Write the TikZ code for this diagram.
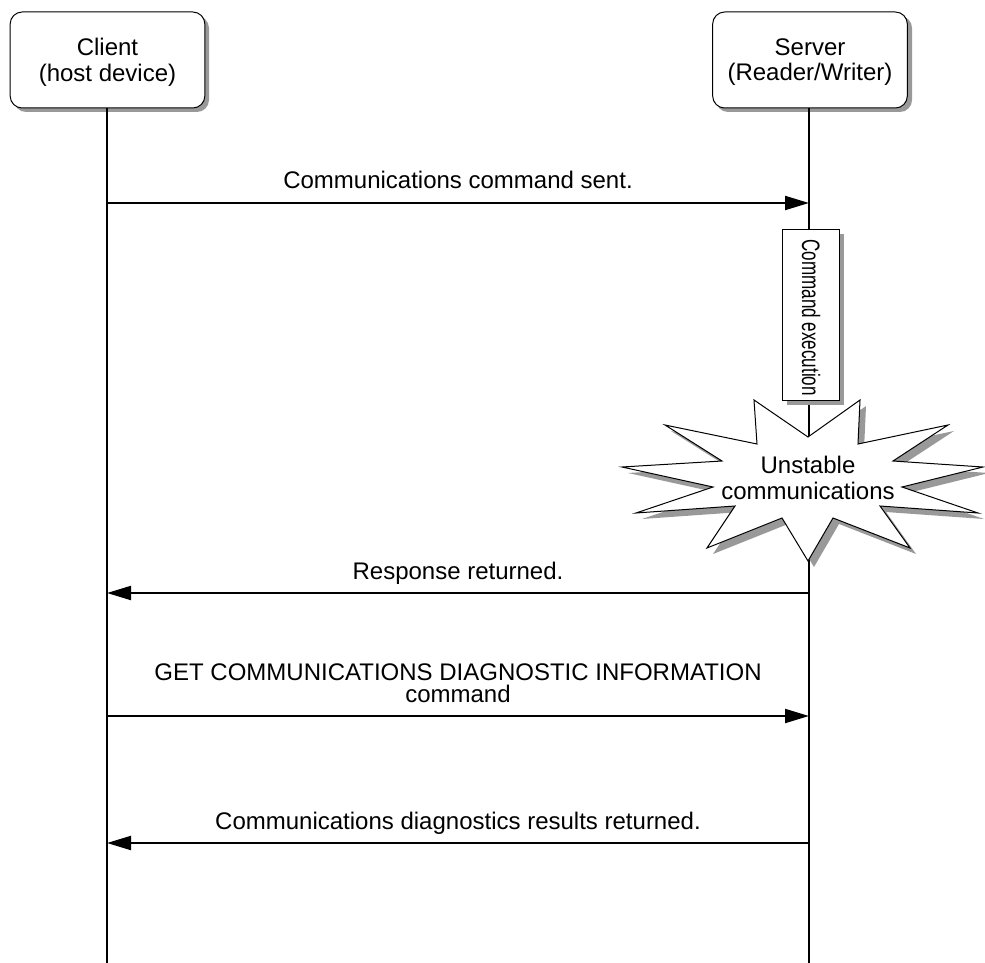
\documentclass[tikz,border=0pt]{standalone}
\usepackage{fontspec}
\setmainfont{Liberation Sans}
\usetikzlibrary{arrows.meta}
\begin{document}
\begin{tikzpicture}[x=0.75pt,y=-0.75pt,
  every node/.style={font=\fontsize{18}{19}\selectfont, inner sep=0pt},
  lifeline/.style={line width=1.5pt},
  msg/.style={line width=1.5pt, -{Triangle[length=18pt,width=10.5pt]}},
  actor/.style={draw, line width=0.75pt, rounded corners=9pt, fill=white, minimum width=146pt, minimum height=72pt, align=center},
  lbl/.style={align=center, anchor=base}
]
\useasboundingbox (0,0) rectangle (985,963);
% actors
\fill[black!40, rounded corners=9pt] (14,16) rectangle (209,112);
\node[actor] (client) at (107.5,60) {};
\node[align=center] (clienttext) at ([yshift=-1.6pt]client.center) {Client\\(host device)};
\fill[black!40, rounded corners=9pt] (716,16) rectangle (912,112);
\node[actor] (server) at (810,60) {};
\node[align=center] (servertext) at ([yshift=-1.6pt]server.center) {Server\\(Reader/Writer)};
% lifeline ends
\coordinate (cend) at (107,963);
\coordinate (send) at (809,963);
\draw[lifeline] (client.south -| cend) -- (cend);
\draw[lifeline] (server.south -| send) -- (send);
% command execution box
\fill[black!40] (787,234) rectangle (844,405);
\node[draw, line width=0.75pt, fill=white, minimum width=42.75pt, minimum height=128.25pt, anchor=north west] (exec) at (782,229) {};
\node[rotate=-90] (exectext) at ([yshift=-2pt]exec.center) {\scalebox{0.71}[1.05]{Command execution}};
% starburst
\def\burst{(808,437) -- (860,400) -- (858,444) -- (948,425) -- (893,461) -- (983,467) -- (902,487) -- (978,513) -- (880,506) -- (910,548) -- (833,518) -- (808,561) -- (782,518) -- (707,548) -- (735,506) -- (636,513) -- (713,487) -- (622,467) -- (722,461) -- (665,425) -- (757,444) -- (754,400) -- cycle}
\fill[black!40, shift={(6,6)}] \burst;
\filldraw[fill=white, line width=0.75pt, line join=miter] \burst;
\node[align=center] (unstable) at (808,478) {Unstable\\communications};
% messages
\coordinate (c1) at (107,203); \coordinate (s1) at (809,203);
\draw[msg] (c1) -- (s1);
\node[lbl] (l1) at (458,189) {Communications command sent.};
\coordinate (c2) at (107,593); \coordinate (s2) at (809,593);
\draw[msg] (s2) -- (c2);
\node[lbl] (l2) at (458,579) {Response returned.};
\coordinate (c3) at (107,716); \coordinate (s3) at (809,716);
\draw[msg] (c3) -- (s3);
\node[lbl] (l3a) at (458,680) {GET COMMUNICATIONS DIAGNOSTIC INFORMATION};
\node[lbl] (l3b) at (458,702) {command};
\coordinate (c4) at (107,843); \coordinate (s4) at (809,843);
\draw[msg] (s4) -- (c4);
\node[lbl] (l4) at (458,829) {Communications diagnostics results returned.};
\end{tikzpicture}
\end{document}
